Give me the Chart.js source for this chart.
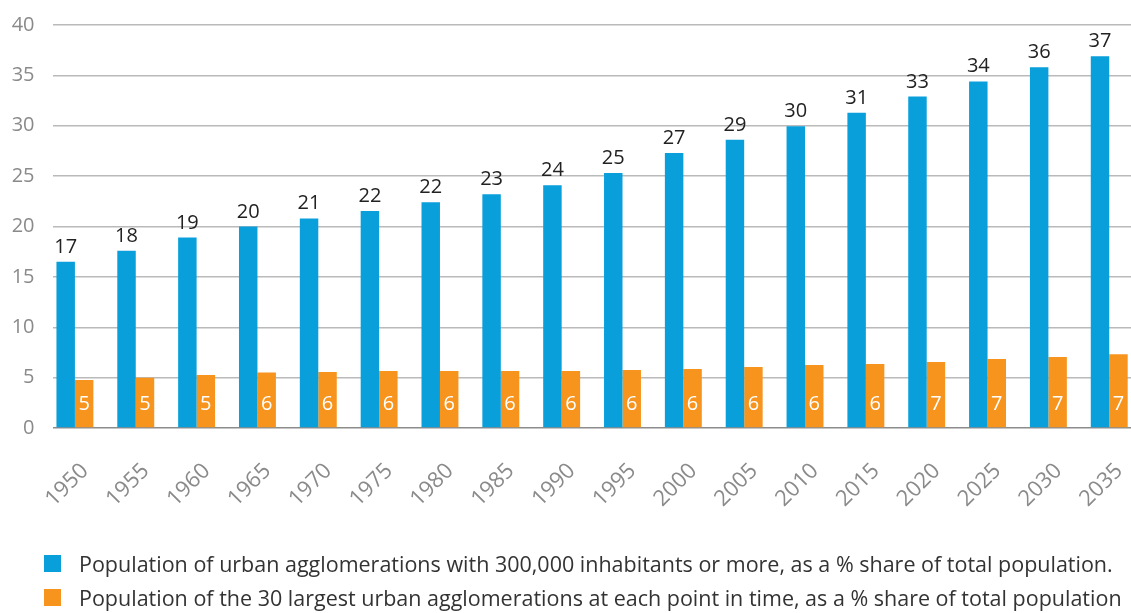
<!DOCTYPE html>
<html>
<head>
<meta charset="utf-8">
<script src="https://cdn.jsdelivr.net/npm/chart.js@4.4.1/dist/chart.umd.min.js"></script>
<style>
  html, body { margin: 0; padding: 0; background: #ffffff; overflow: hidden; width: 1131px; height: 613px; }
  #wrap { position: relative; width: 1131px; height: 613px; overflow: hidden; }
  #c { display: block; }
</style>
</head>
<body>
<div id="wrap"><canvas id="c" width="1150" height="613" style="width:1150px;height:613px"></canvas></div>
<script>
const years = ['1950','1955','1960','1965','1970','1975','1980','1985','1990','1995','2000','2005','2010','2015','2020','2025','2030','2035'];
const urban300k = [16.5, 17.6, 18.9, 20.0, 20.8, 21.55, 22.4, 23.2, 24.1, 25.3, 27.3, 28.6, 29.95, 31.3, 32.9, 34.4, 35.8, 36.9];
const largest30 = [4.76, 5.0, 5.25, 5.5, 5.55, 5.65, 5.65, 5.65, 5.65, 5.75, 5.85, 6.05, 6.25, 6.35, 6.55, 6.84, 7.04, 7.33];
const seriesNames = [
  'Population of urban agglomerations with 300,000 inhabitants or more, as a % share of total population.',
  'Population of the 30 largest urban agglomerations at each point in time, as a % share of total population'
];
const yTicks = [0, 5, 10, 15, 20, 25, 30, 35, 40];

const FONT = 'Open Sans';
const BLUE = '#089fdb';
const ORANGE = '#f7941d';

const maskPlugin = {
  id: 'mask',
  beforeDatasetsDraw(chart) {
    const a = chart.chartArea;
    const ctx = chart.ctx;
    ctx.save();
    ctx.fillStyle = '#ffffff';
    ctx.fillRect(a.left - 1, a.top - 2, 9.5, a.bottom - a.top + 4);
    ctx.restore();
  }
};

const valueLabels = {
  id: 'valueLabels',
  afterDatasetsDraw(chart) {
    const ctx = chart.ctx;
    const a = chart.chartArea;
    ctx.save();
    ctx.font = '20px "' + FONT + '"';
    ctx.textAlign = 'center';
    chart.data.datasets.forEach((ds, i) => {
      const meta = chart.getDatasetMeta(i);
      meta.data.forEach((bar, j) => {
        const txt = String(Math.round(ds.data[j]));
        if (i === 0) {
          ctx.fillStyle = '#222222';
          ctx.textBaseline = 'alphabetic';
          ctx.fillText(txt, bar.x, bar.y - 9);
        } else {
          ctx.fillStyle = '#ffffff';
          ctx.textBaseline = 'middle';
          ctx.fillText(txt, bar.x, a.bottom - 24);
        }
      });
    });
    ctx.restore();
  }
};

const bottomLegend = {
  id: 'bottomLegend',
  afterDraw(chart) {
    const ctx = chart.ctx;
    ctx.save();
    ctx.font = '21.5px "' + FONT + '"';
    ctx.textAlign = 'left';
    ctx.textBaseline = 'alphabetic';
    chart.data.datasets.forEach((ds, i) => {
      const top = 555 + 34 * i;
      ctx.fillStyle = ds.backgroundColor;
      ctx.fillRect(44, top, 17, 17);
      ctx.fillStyle = '#333333';
      ctx.fillText(ds.label, 79, top + 17);
    });
    ctx.restore();
  }
};

new Chart(document.getElementById('c'), {
  type: 'bar',
  data: {
    labels: years,
    datasets: [
      { label: seriesNames[0], data: urban300k, backgroundColor: BLUE, borderWidth: 0 },
      { label: seriesNames[1], data: largest30, backgroundColor: ORANGE, borderWidth: 0 }
    ]
  },
  options: {
    responsive: false,
    maintainAspectRatio: false,
    animation: false,
    devicePixelRatio: 1,
    layout: { padding: { top: 25, right: 3.5, left: 0, bottom: 0 } },
    datasets: { bar: { categoryPercentage: 0.607, barPercentage: 1.0 } },
    plugins: {
      tooltip: { enabled: false },
      legend: { display: false }
    },
    scales: {
      x: {
        afterFit(scale) { scale.height = 185; },
        grid: { display: false },
        border: { display: false },
        ticks: {
          color: '#8a8a8a',
          font: { family: FONT, size: 22 },
          minRotation: 45,
          maxRotation: 45,
          labelOffset: 10,
          padding: 22
        }
      },
      y: {
        min: 0,
        max: 40,
        afterFit(scale) { scale.width = 44.5; },
        afterBuildTicks(scale) { scale.ticks = yTicks.map(v => ({ value: v })); },
        border: { display: false },
        grid: {
          color: ctx => (ctx.tick && ctx.tick.value === 0) ? '#8c8c8c' : '#bababa',
          lineWidth: 1.5,
          drawTicks: false
        },
        ticks: {
          color: '#8a8a8a',
          font: { family: FONT, size: 20 },
          padding: 10
        }
      }
    }
  },
  plugins: [maskPlugin, valueLabels, bottomLegend]
});
</script>
</body>
</html>
